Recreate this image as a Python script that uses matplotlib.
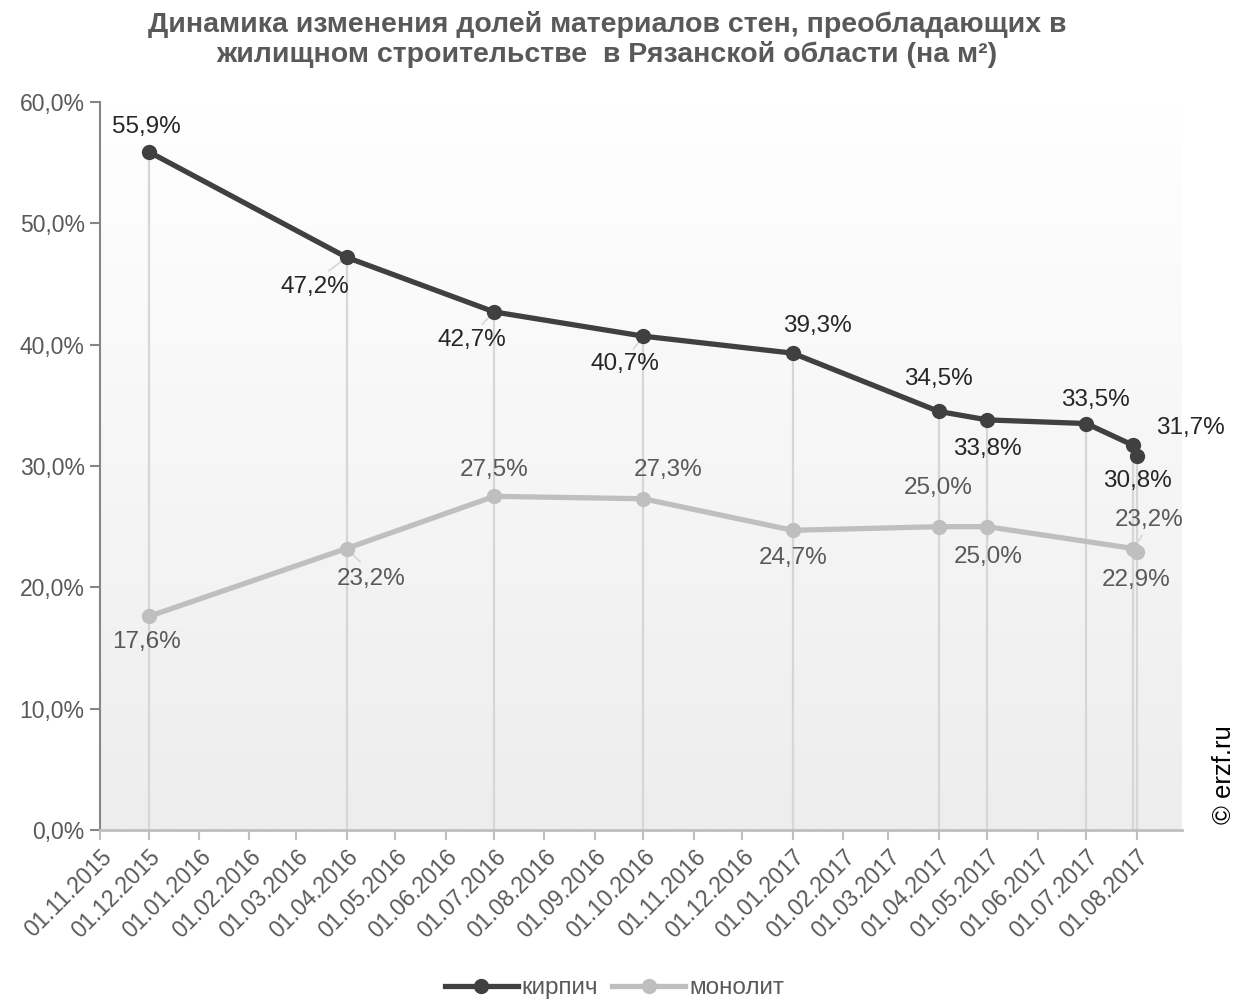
import numpy as np
import pandas as pd
import matplotlib
matplotlib.use('Agg')
import matplotlib.pyplot as plt
import matplotlib.dates as mdates
from matplotlib.ticker import FuncFormatter

plt.rcParams['font.family'] = ['Liberation Sans', 'DejaVu Sans']

# данные
dates = pd.to_datetime(['2015-12-01', '2016-04-01', '2016-07-01', '2016-10-01',
                        '2017-01-01', '2017-04-01', '2017-05-01', '2017-07-01',
                        '2017-07-30', '2017-08-01'])
kirpich = [55.9, 47.2, 42.7, 40.7, 39.3, 34.5, 33.8, 33.5, 31.7, 30.8]
monolit = [17.6, 23.2, 27.5, 27.3, 24.7, 25.0, 25.0, np.nan, 23.2, 22.9]

# смещения подписей (в пикселях) и наличие выносной линии
k_off = [(-2, 25, 0), (-32, -30, 1), (-22, -28, 1), (-18, -28, 1), (25, 27, 0),
         (0, 32, 0), (0, -29, 0), (9, 24, 0), (57, 17, 0), (1, -25, 0)]
m_off = [(-2, -26, 0), (25, -30, 1), (0, 26, 0), (25, 29, 0), (0, -28, 0),
         (0, 39, 0), (1, -30, 1), None, (16, 29, 1), (0, -28, 0)]

fig = plt.figure(figsize=(12.46, 10), dpi=100)
ax = fig.add_axes([100 / 1246, 0.17, 1082 / 1246, 0.728])

x0 = mdates.date2num(pd.Timestamp('2015-11-01'))
x1 = mdates.date2num(pd.Timestamp('2017-08-29'))
ax.set_xlim(x0, x1)

# фон с градиентом (сверху белый, снизу серый)
grad = np.linspace(0, 1, 256).reshape(-1, 1)
cmap = matplotlib.colors.LinearSegmentedColormap.from_list('g', ['#ffffff', '#ededed'])
ax.imshow(grad, extent=[x0, x1, 0, 60], aspect='auto', cmap=cmap, zorder=0, origin='upper')
ax.set_ylim(0, 60)

# вертикальные линии от точек к оси
ax.vlines(dates, 0, kirpich, color='#d6d6d6', lw=1.6, zorder=1)

m = ~np.isnan(monolit)
ax.plot(dates[m], np.array(monolit)[m], color='#bfbfbf', lw=3.8, marker='o', ms=10,
        label='монолит', zorder=3)
ax.plot(dates, kirpich, color='#404040', lw=3.8, marker='o', ms=10,
        label='кирпич', zorder=4)


def lab(vals, offs, color):
    for d, v, o in zip(dates, vals, offs):
        if o is None or np.isnan(v):
            continue
        dx, dy, lead = o
        s = f'{v:.1f}%'.replace('.', ',')
        ax.annotate(s, (d, v), xytext=(dx, dy), textcoords='offset pixels',
                    ha='center', va='center', fontsize=17.5, color=color, zorder=5)
        if lead:
            ax.annotate('', (d, v), xytext=(dx * 0.55, dy * 0.45),
                        textcoords='offset pixels',
                        arrowprops=dict(arrowstyle='-', color='#d6d6d6', lw=1.2,
                                        shrinkA=0, shrinkB=4), zorder=2)


lab(kirpich, k_off, '#262626')
lab(monolit, m_off, '#595959')

ax.xaxis.set_major_locator(mdates.MonthLocator())
ax.xaxis.set_major_formatter(mdates.DateFormatter('%d.%m.%Y'))
plt.setp(ax.get_xticklabels(), rotation=45, ha='right', rotation_mode='anchor')
ax.yaxis.set_major_locator(matplotlib.ticker.MultipleLocator(10))
ax.yaxis.set_major_formatter(FuncFormatter(lambda v, p: f'{v:.1f}%'.replace('.', ',')))

ax.tick_params(axis='x', labelsize=16.5, colors='#bfbfbf', labelcolor='#595959',
               length=7, width=1.5, pad=4)
ax.tick_params(axis='y', labelsize=16.5, colors='#868686', labelcolor='#595959',
               length=7, width=1.5, pad=4)
for s in ['top', 'right']:
    ax.spines[s].set_visible(False)
ax.spines['left'].set_color('#868686')
ax.spines['left'].set_linewidth(1.5)
ax.spines['bottom'].set_color('#bfbfbf')
ax.spines['bottom'].set_linewidth(2)

fig.text(0.487, 0.989, 'Динамика изменения долей материалов стен, преобладающих в\n'
         'жилищном строительстве  в Рязанской области (на м²)',
         ha='center', va='top', fontsize=20.5, fontweight='bold', color='#595959',
         linespacing=1.15)

fig.text(0.982, 0.225, '© erzf.ru', rotation=90, ha='center', va='center',
         fontsize=18.5, color='#000000')

handles, labels = ax.get_legend_handles_labels()
fig.legend(handles[::-1], labels[::-1], loc='center', bbox_to_anchor=(0.493, 0.012),
           ncol=2, frameon=False, fontsize=17.5, labelcolor='#595959',
           handlelength=3, columnspacing=0.6, handletextpad=0.15)

fig.savefig('out.png', dpi=100)
